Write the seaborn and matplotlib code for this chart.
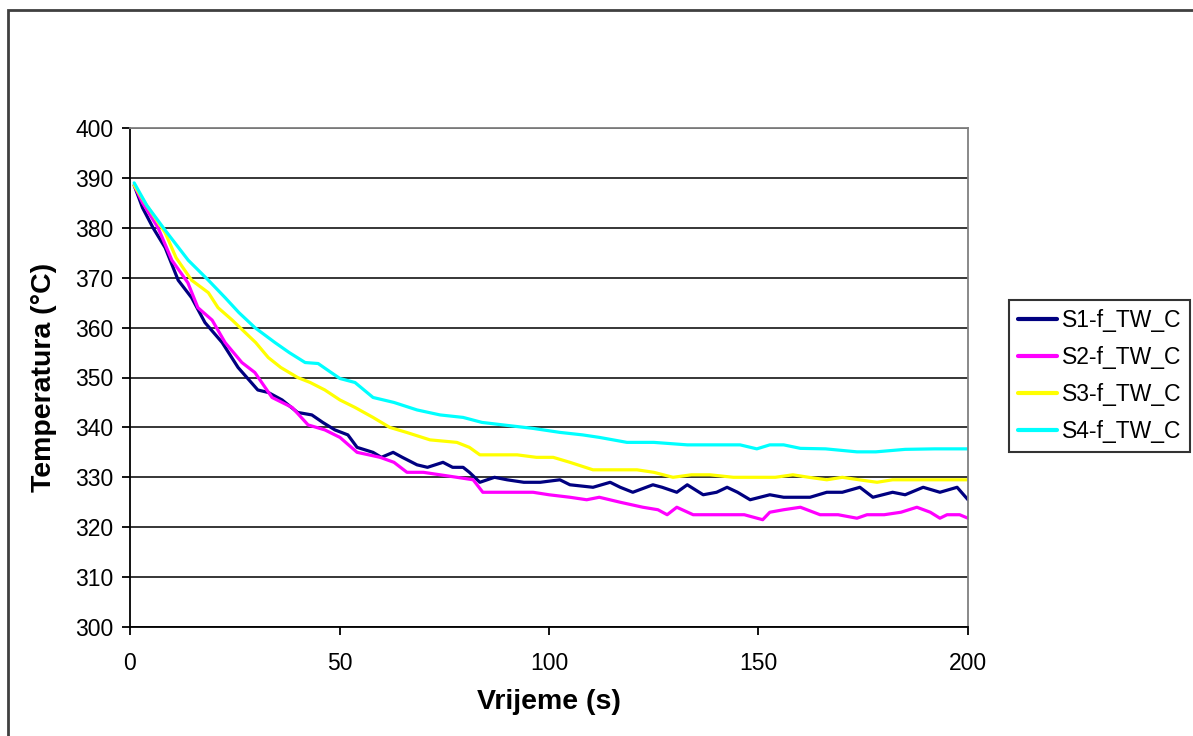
import numpy as np
import pandas as pd
import matplotlib.pyplot as plt
import matplotlib.patches as patches
import seaborn as sns

# series (time in s, temperature in °C)
t_s1 = [1, 3, 5.5, 8.4, 11.5, 14.7, 17.9, 22, 25.8, 30.5, 33, 36.3, 40, 43.4, 46, 48.9, 52, 54.2, 58, 60,
        62.8, 65, 68.5, 71, 74.7, 77, 79.5, 81, 83.5, 87, 90, 94, 97.9, 102.6, 105, 110.5, 114.6, 117, 120,
        124.8, 127, 130.5, 133, 136.8, 140, 142.5, 145, 148, 152.7, 156, 162.3, 166.3, 170, 174.2, 177.3,
        182, 185, 189.3, 193.3, 197.4, 200]
T_s1 = [388.5, 384, 380, 376, 369.5, 366, 361, 357, 352, 347.5, 347, 345.5, 343, 342.5, 341, 339.5, 338.5,
        336, 335, 334, 335, 334, 332.5, 332, 333, 332, 332, 331, 329, 330, 329.5, 329, 329, 329.5, 328.5,
        328, 329, 328, 327, 328.5, 328, 327, 328.5, 326.5, 327, 328, 327, 325.5, 326.5, 326, 326, 327, 327,
        328, 326, 327, 326.5, 328, 327, 328, 325.5]

t_s2 = [1, 3, 6.7, 10, 13.8, 16.2, 19.6, 22.7, 26.7, 29.8, 33.9, 38.7, 42.5, 46.5, 50.1, 54.2, 57, 59.7, 63,
        66.1, 70, 74, 78, 81.9, 84.2, 88, 92.4, 96.2, 100, 105, 109, 112, 117, 122.4, 126, 128.2, 130.5,
        134.4, 138, 142.5, 146.6, 151, 152.7, 156, 160, 164.7, 169, 173.5, 175.9, 180, 184, 187.8, 191,
        193.3, 195, 198, 200]
T_s2 = [388.5, 385, 380, 373.5, 369, 364, 361.5, 357, 353, 351, 346, 344, 340.5, 339.5, 338, 335, 334.5, 334,
        333, 331, 331, 330.5, 330, 329.5, 327, 327, 327, 327, 326.5, 326, 325.5, 326, 325, 324, 323.5, 322.5,
        324, 322.5, 322.5, 322.5, 322.5, 321.5, 323, 323.5, 324, 322.5, 322.5, 321.8, 322.5, 322.5, 323, 324,
        323, 321.8, 322.5, 322.5, 321.8]

t_s3 = [1, 3.6, 8.4, 11, 14.7, 18.7, 21, 24.4, 27.5, 30, 33, 36, 40, 43, 46.5, 50.1, 53.7, 58, 62, 66, 71.6,
        78, 81, 83.5, 88, 92.4, 97, 101, 105, 110.5, 115, 121, 125, 129.6, 134, 138.4, 144, 150.4, 154,
        158.2, 162, 166.3, 170, 174, 178.3, 182, 186, 190, 195, 200]
T_s3 = [388.5, 385, 379, 374, 369.5, 367, 364, 361.5, 359, 357, 354, 352, 350, 349, 347.5, 345.5, 344, 342,
        340, 339, 337.5, 337, 336, 334.5, 334.5, 334.5, 334, 334, 333, 331.5, 331.5, 331.5, 331, 330, 330.5,
        330.5, 330, 330, 330, 330.5, 330, 329.5, 330, 329.5, 329, 329.5, 329.5, 329.5, 329.5, 329.5]

t_s4 = [1, 4, 8.4, 13.9, 18.7, 22.7, 26, 29.8, 34.6, 38, 41.8, 44.9, 48, 50.1, 53.7, 58, 63, 68.5, 74, 79.5,
        84, 89, 96.2, 102.6, 108, 112, 118.6, 125, 133, 140, 145.6, 149.6, 152.7, 156, 160, 166, 173.5,
        178, 185, 192, 200]
T_s4 = [389, 384.5, 379.5, 373.5, 369.5, 366, 363, 360, 357, 355, 353, 352.8, 351, 349.8, 349, 346, 345,
        343.5, 342.5, 342, 341, 340.5, 339.8, 339, 338.5, 338, 337, 337, 336.5, 336.5, 336.5, 335.7, 336.5,
        336.5, 335.8, 335.7, 335.1, 335.1, 335.6, 335.7, 335.7]

names = ['S1-f_TW_C', 'S2-f_TW_C', 'S3-f_TW_C', 'S4-f_TW_C']
colors = ['#000080', '#FF00FF', '#FFFF00', '#00FFFF']

frames = []
for name, t, T in zip(names, [t_s1, t_s2, t_s3, t_s4], [T_s1, T_s2, T_s3, T_s4]):
    frames.append(pd.DataFrame({'t': t, 'T': T, 'serie': name}))
df = pd.concat(frames, ignore_index=True)

sns.set_style('white')
plt.rcParams['font.family'] = ['Liberation Sans', 'DejaVu Sans']
plt.rcParams['text.color'] = 'black'
plt.rcParams['axes.labelcolor'] = 'black'
plt.rcParams['xtick.color'] = 'black'
plt.rcParams['ytick.color'] = 'black'

fig = plt.figure(figsize=(11.93, 7.36), dpi=100)
ax = fig.add_axes([130 / 1193, 1 - 627 / 736, 838 / 1193, 499 / 736])

sns.lineplot(data=df, x='t', y='T', hue='serie', hue_order=names, palette=colors,
             linewidth=2.3, sort=False, estimator=None, ax=ax)

ax.set_xlim(0, 200)
ax.set_ylim(300, 400)
ax.set_xticks(np.arange(0, 201, 50))
ax.set_yticks(np.arange(300, 401, 10))
ax.yaxis.grid(True, color='black', linewidth=1.1)
ax.set_axisbelow(True)

ax.tick_params(axis='both', direction='out', length=6, width=1.3, color='black',
               labelsize=16.5, left=True, bottom=True)
ax.tick_params(axis='x', pad=12)
ax.tick_params(axis='y', pad=6)
for side in ['left', 'bottom']:
    ax.spines[side].set_color('black')
    ax.spines[side].set_linewidth(1.3)
for side in ['top', 'right']:
    ax.spines[side].set_color('#808080')
    ax.spines[side].set_linewidth(1.3)

ax.set_xlabel('Vrijeme (s)', fontsize=20.5, fontweight='bold', labelpad=10)
ax.set_ylabel('Temperatura (°C)', fontsize=20.5, fontweight='bold', labelpad=13)

handles, labels = ax.get_legend_handles_labels()
leg = ax.legend(handles, labels, loc='center left', bbox_to_anchor=(1009 / 1193, 1 - 376 / 736),
                bbox_transform=fig.transFigure, fontsize=16.5, frameon=True, fancybox=False,
                edgecolor='black', handlelength=1.7, handletextpad=0.2, labelspacing=0.62,
                borderpad=0.4, borderaxespad=0)
leg.get_frame().set_linewidth(1.5)
for line in leg.get_lines():
    line.set_linewidth(3)

# outer chart frame (cut off on the right and bottom, like the reference)
frame = patches.Rectangle((8 / 1193, -0.1), 2, 1 - 10 / 736 + 0.1, transform=fig.transFigure,
                          fill=False, edgecolor='#404040', linewidth=2, clip_on=False)
fig.add_artist(frame)

fig.savefig('out.png', dpi=100)
